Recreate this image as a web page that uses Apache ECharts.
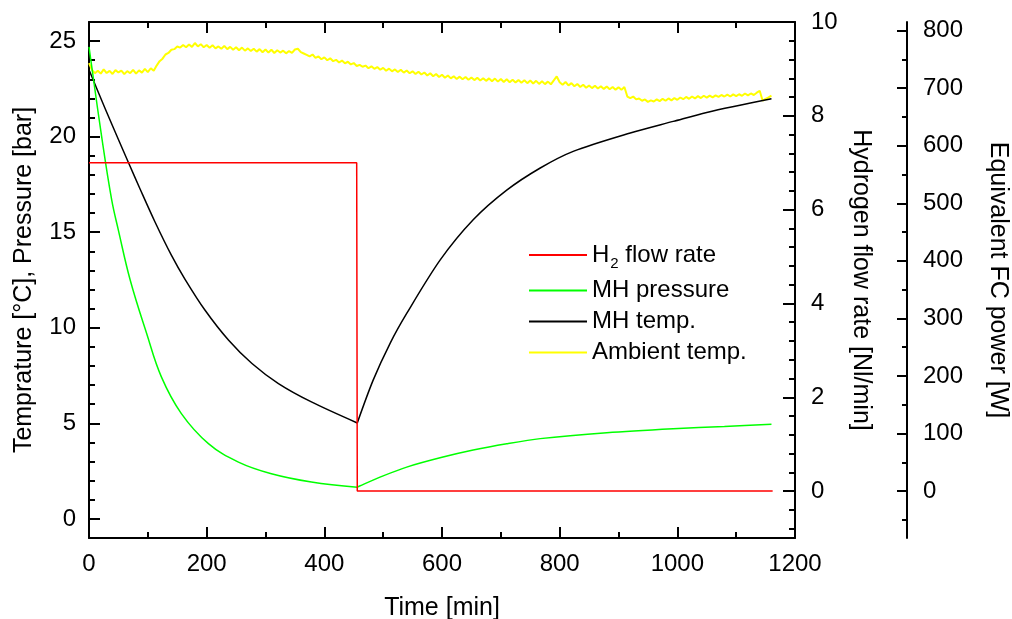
<!DOCTYPE html>
<html>
<head>
<meta charset="utf-8">
<title>MH tank discharge</title>
<script src="https://cdn.jsdelivr.net/npm/echarts@6/dist/echarts.min.js"></script>
<style>
    html, body { margin: 0; padding: 0; background: #fff; }
    #main { width: 1012px; height: 619px; }
</style>
</head>
<body>
<div id="main"></div>
<script>
// 数据
var flowTime = [0, 455, 456, 1162];
var flowRate = [7.0, 7.0, 0, 0];

var pressFallTime = [0, 21.5, 38.5, 50, 70, 98, 123, 157, 203, 254, 310, 378, 456];
var pressFall = [24.7, 20.0, 16.7, 15.1, 12.5, 9.7, 7.43, 5.51, 3.94, 2.97, 2.36, 1.93, 1.66];
var pressRiseTime = [456, 460, 500, 540, 600, 653, 710, 767, 880, 993, 1080, 1160];
var pressRise = [1.66, 1.72, 2.25, 2.71, 3.22, 3.6, 3.93, 4.2, 4.51, 4.72, 4.84, 4.95];

var tempFallTime = [0, 27, 50, 67, 87, 112, 140, 163, 197, 237, 277, 322, 378, 456];
var tempFall = [23.5, 21.5, 19.85, 18.65, 17.25, 15.55, 13.8, 12.55, 10.93, 9.36, 8.13, 7.08, 6.12, 5.02];
var tempRiseTime = [456, 483, 512, 540, 597, 653, 710, 767, 823, 920, 993, 1050, 1160];
var tempRise = [5.02, 7.26, 9.2, 10.75, 13.55, 15.65, 17.2, 18.36, 19.23, 20.19, 20.8, 21.27, 21.98];

// 环境温度, 每5分钟一个点, 从0开始 (每行80分钟)
var ambientStep = 5;
var ambientTemp = [
    23.85, 23.5, 23.32, 23.45, 23.3, 23.52, 23.33, 23.44, 23.28, 23.48, 23.36, 23.46, 23.27, 23.43, 23.32, 23.5,
    23.3, 23.47, 23.35, 23.55, 23.38, 23.58, 23.45, 23.72, 23.95, 24.08, 24.3, 24.38, 24.55, 24.58, 24.72, 24.66,
    24.8, 24.68, 24.82, 24.7, 24.9, 24.72, 24.84, 24.68, 24.8, 24.65, 24.78, 24.62, 24.72, 24.6, 24.75, 24.58,
    24.7, 24.55, 24.68, 24.52, 24.66, 24.5, 24.62, 24.48, 24.6, 24.45, 24.58, 24.42, 24.56, 24.4, 24.55, 24.38,
    24.52, 24.4, 24.5, 24.36, 24.48, 24.38, 24.56, 24.6, 24.42, 24.35, 24.28, 24.2, 24.3, 24.12, 24.2, 24.05,
    24.15, 24.0, 24.1, 23.95, 24.02, 23.88, 23.98, 23.84, 23.92, 23.78, 23.85, 23.7, 23.76, 23.66, 23.72, 23.58,
    23.68, 23.55, 23.64, 23.5, 23.6, 23.45, 23.56, 23.42, 23.52, 23.38, 23.5, 23.35, 23.46, 23.32, 23.42, 23.28,
    23.4, 23.25, 23.36, 23.2, 23.32, 23.16, 23.28, 23.12, 23.24, 23.08, 23.2, 23.05, 23.16, 23.02, 23.14, 23.0,
    23.12, 22.98, 23.1, 22.96, 23.08, 22.94, 23.06, 22.92, 23.05, 22.9, 23.04, 22.88, 23.02, 22.86, 23.0, 22.85,
    22.98, 22.84, 22.96, 22.82, 22.95, 22.8, 22.94, 22.78, 22.92, 22.76, 22.9, 22.75, 22.88, 22.74, 22.95, 23.15,
    22.85, 22.72, 22.86, 22.68, 22.8, 22.64, 22.76, 22.6, 22.72, 22.56, 22.68, 22.54, 22.66, 22.52, 22.64, 22.5,
    22.62, 22.48, 22.6, 22.46, 22.58, 22.45, 22.6, 22.1, 22.02, 22.1, 21.95, 22.0, 21.88, 21.95, 21.82, 21.9,
    21.84, 21.95, 21.86, 21.98, 21.88, 22.0, 21.9, 22.02, 21.93, 22.05, 21.96, 22.08, 21.98, 22.1, 22.0, 22.12,
    22.02, 22.14, 22.04, 22.15, 22.06, 22.16, 22.08, 22.18, 22.1, 22.2, 22.1, 22.21, 22.12, 22.22, 22.14, 22.26,
    22.16, 22.26, 22.18, 22.3, 22.4, 21.88, 21.98, 22.06, 22.15
];

// 刻度
var leftMajor = [0, 5, 10, 15, 20, 25];
var leftMinor = [-1, 0, 1, 2, 3, 4, 5, 6, 7, 8, 9, 10, 11, 12, 13, 14, 15, 16, 17, 18, 19, 20, 21, 22, 23, 24, 25, 26];
var flowMajor = [0, 2, 4, 6, 8, 10];
var flowMinor = [-0.8, -0.4, 0.4, 0.8, 1.2, 1.6, 2.4, 2.8, 3.2, 3.6, 4.4, 4.8, 5.2, 5.6, 6.4, 6.8, 7.2, 7.6, 8.4, 8.8, 9.2, 9.6];
var powerMajor = [0, 100, 200, 300, 400, 500, 600, 700, 800];
var powerMinor = [-50, 50, 150, 250, 350, 450, 550, 650, 750];

function pairs(xs, ys) {
    return xs.map(function (x, i) { return [x, ys[i]]; });
}

var FONT = 'Liberation Sans, Arial, sans-serif';
var black = '#000';
var LABEL_SIZE = 24;
var NAME_SIZE = 25;

function tickAxis(opt) {
    // 只画刻度的辅助轴
    return Object.assign({
        type: 'value',
        axisLine: { show: false, onZero: false },
        axisLabel: { show: false },
        splitLine: { show: false }
    }, opt);
}

function plain(v) { return String(v); }

var myChart = echarts.init(document.getElementById('main'));

var option = {
    animation: false,
    backgroundColor: '#fff',
    textStyle: { fontFamily: FONT },
    grid: { left: 89, right: 217, top: 22, bottom: 81, outerBoundsMode: 'none', containLabel: false },
    legend: {
        data: ['H2 flow rate', 'MH pressure', 'MH temp.', 'Ambient temp.'],
        orient: 'vertical',
        left: 524,
        top: 238,
        icon: 'rect',
        itemWidth: 58,
        itemHeight: 2,
        itemGap: 7,
        formatter: function (name) {
            return name === 'H2 flow rate' ? 'H{sub|2} flow rate' : name;
        },
        textStyle: {
            fontSize: LABEL_SIZE,
            color: black,
            fontFamily: FONT,
            rich: {
                sub: { fontSize: 15, fontFamily: FONT, color: black, padding: [18, 0, 0, 1] }
            }
        }
    },
    xAxis: [{
        type: 'value',
        position: 'bottom',
        min: 0,
        max: 1200,
        interval: 200,
        name: 'Time [min]',
        nameLocation: 'middle',
        nameGap: 58,
        nameTextStyle: { fontSize: NAME_SIZE, color: black, fontFamily: FONT },
        axisLine: { onZero: false, lineStyle: { color: black, width: 2 } },
        axisTick: { inside: true, length: 11, lineStyle: { color: black, width: 2 } },
        minorTick: { show: true, splitNumber: 2, length: 6, lineStyle: { color: black, width: 2 } },
        axisLabel: { fontSize: LABEL_SIZE, color: black, margin: 14, formatter: plain },
        splitLine: { show: false }
    }, {
        type: 'value',
        position: 'top',
        min: 0,
        max: 1200,
        interval: 200,
        axisLine: { onZero: false, lineStyle: { color: black, width: 2 } },
        axisTick: { inside: true, length: 11, lineStyle: { color: black, width: 2 } },
        minorTick: { show: true, splitNumber: 2, length: 6, lineStyle: { color: black, width: 2 } },
        axisLabel: { show: false },
        splitLine: { show: false }
    }],
    yAxis: [{
        type: 'value',
        position: 'left',
        min: -1,
        max: 26,
        name: 'Temprature [°C], Pressure [bar]',
        nameLocation: 'middle',
        nameGap: 52,
        nameTextStyle: { fontSize: NAME_SIZE, color: black, fontFamily: FONT },
        axisLine: { show: true, onZero: false, lineStyle: { color: black, width: 2 } },
        axisTick: { show: true, inside: true, length: 11, customValues: leftMajor, lineStyle: { color: black, width: 2 } },
        axisLabel: { customValues: leftMajor, fontSize: LABEL_SIZE, color: black, margin: 13 },
        splitLine: { show: false }
    }, tickAxis({
        position: 'left',
        min: -1,
        max: 26,
        axisTick: { show: true, inside: true, length: 6, customValues: leftMinor, lineStyle: { color: black, width: 2 } }
    }), {
        type: 'value',
        position: 'right',
        min: -1,
        max: 10,
        name: 'Hydrogen flow rate [Nl/min]',
        nameLocation: 'middle',
        nameRotate: -90,
        nameGap: 48,
        nameTextStyle: { fontSize: NAME_SIZE, color: black, fontFamily: FONT },
        axisLine: { show: true, onZero: false, lineStyle: { color: black, width: 2 } },
        axisTick: { show: true, inside: true, length: 12, customValues: flowMajor, lineStyle: { color: black, width: 2 } },
        axisLabel: { customValues: flowMajor, fontSize: LABEL_SIZE, color: black, margin: 16 },
        splitLine: { show: false }
    }, tickAxis({
        position: 'right',
        min: -1,
        max: 10,
        axisTick: { show: true, inside: true, length: 6, customValues: flowMinor, lineStyle: { color: black, width: 2 } }
    }), {
        type: 'value',
        position: 'right',
        offset: 112,
        min: -81.5,
        max: 815,
        name: 'Equivalent FC power [W]',
        nameLocation: 'middle',
        nameRotate: -90,
        nameGap: 78,
        nameTextStyle: { fontSize: NAME_SIZE, color: black, fontFamily: FONT },
        axisLine: { show: true, onZero: false, lineStyle: { color: black, width: 2 } },
        axisTick: { show: true, inside: true, length: 10, customValues: powerMajor, lineStyle: { color: black, width: 2 } },
        axisLabel: { customValues: powerMajor, fontSize: LABEL_SIZE, color: black, margin: 16 },
        splitLine: { show: false }
    }, tickAxis({
        position: 'right',
        offset: 112,
        min: -81.5,
        max: 815,
        axisTick: { show: true, inside: true, length: 5, customValues: powerMinor, lineStyle: { color: black, width: 2 } }
    })],
    series: [{
        name: 'Ambient temp.',
        type: 'line',
        yAxisIndex: 0,
        symbol: 'none',
        lineStyle: { color: '#ffff00', width: 2 },
        itemStyle: { color: '#ffff00' },
        data: ambientTemp.map(function (v, i) { return [i * ambientStep, v]; })
    }, {
        name: 'MH temp.',
        type: 'line',
        yAxisIndex: 0,
        symbol: 'none',
        smooth: 0.3,
        lineStyle: { color: black, width: 1.5 },
        itemStyle: { color: black },
        data: pairs(tempFallTime, tempFall)
    }, {
        name: 'MH temp.',
        type: 'line',
        yAxisIndex: 0,
        symbol: 'none',
        smooth: 0.3,
        lineStyle: { color: black, width: 1.5 },
        itemStyle: { color: black },
        data: pairs(tempRiseTime, tempRise)
    }, {
        name: 'MH pressure',
        type: 'line',
        yAxisIndex: 0,
        symbol: 'none',
        smooth: 0.4,
        lineStyle: { color: '#00ff00', width: 1.5 },
        itemStyle: { color: '#00ff00' },
        data: pairs(pressFallTime, pressFall)
    }, {
        name: 'MH pressure',
        type: 'line',
        yAxisIndex: 0,
        symbol: 'none',
        smooth: 0.3,
        lineStyle: { color: '#00ff00', width: 1.5 },
        itemStyle: { color: '#00ff00' },
        data: pairs(pressRiseTime, pressRise)
    }, {
        name: 'H2 flow rate',
        type: 'line',
        yAxisIndex: 2,
        symbol: 'none',
        lineStyle: { color: '#ff0000', width: 1.5 },
        itemStyle: { color: '#ff0000' },
        data: pairs(flowTime, flowRate)
    }]
};

myChart.setOption(option);
</script>
</body>
</html>
